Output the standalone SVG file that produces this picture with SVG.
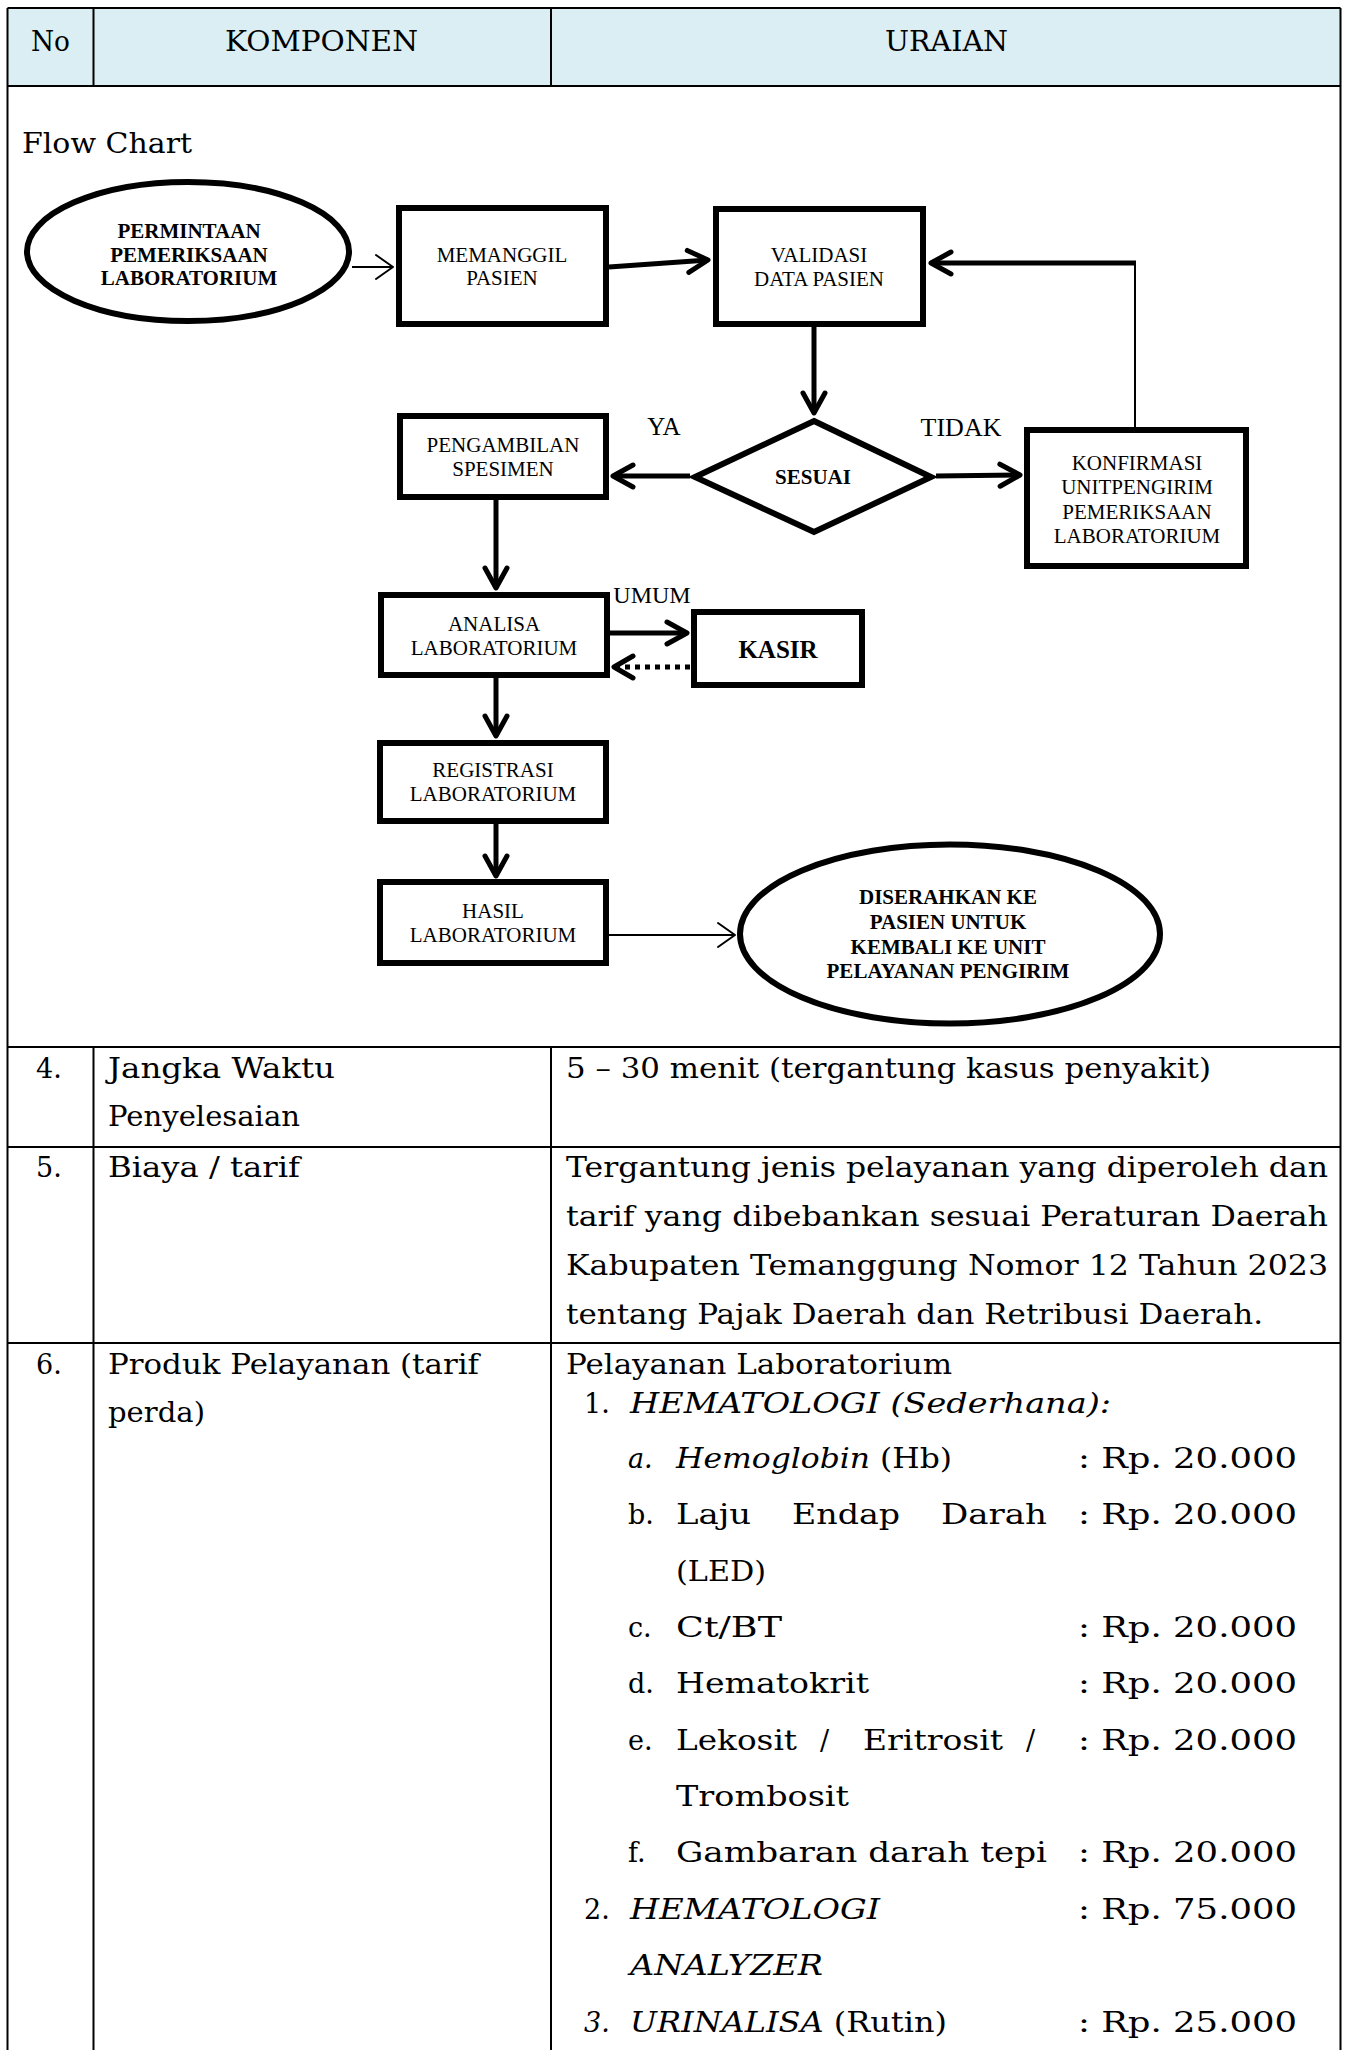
<svg xmlns="http://www.w3.org/2000/svg" width="1347" height="2050" viewBox="0 0 1347 2050">
<style>
  .cell{font-family:"DejaVu Serif","Liberation Serif",serif;font-size:27px;fill:#000}
  .it{font-style:italic}
  .grid{stroke:#000;stroke-width:2;fill:none}
  .fc{font-family:"Liberation Serif","Times New Roman",serif;font-size:21px;fill:#000;text-anchor:middle}
  .b{font-weight:bold}
  .box{fill:#fff;stroke:#000;stroke-width:6}
  .thick{stroke:#000;stroke-width:5;fill:none}
  .thin{stroke:#000;stroke-width:2;fill:none}
  .dots{stroke:#000;stroke-width:5;fill:none;stroke-dasharray:5 5}
</style>
<defs>
  <marker id="arrowThick" markerUnits="userSpaceOnUse" orient="auto" overflow="visible" markerWidth="1" markerHeight="1" refX="0" refY="0">
    <path d="M-20,-11 L0,0 L-20,11" fill="none" stroke="#000" stroke-width="5" stroke-linecap="round" stroke-linejoin="round"/>
  </marker>
  <marker id="arrowThin" markerUnits="userSpaceOnUse" orient="auto" overflow="visible" markerWidth="1" markerHeight="1" refX="0" refY="0">
    <path d="M-17,-12 L0,0 L-17,12" fill="none" stroke="#000" stroke-width="2" stroke-linecap="round" stroke-linejoin="round"/>
  </marker>
</defs>

<rect width="1347" height="2050" fill="#fff"/>

<!-- table frame -->
<g id="table">
  <rect x="7.5" y="8" width="1333" height="78" fill="#dbeef3"/>
  <path class="grid" d="M7.5,8 H1340.5 M7.5,8 V2050 M1340.5,8 V2050 M7.5,86 H1340.5 M7.5,1047 H1340.5 M7.5,1147 H1340.5 M7.5,1343 H1340.5 M93.5,8 V86 M551,8 V86 M93.5,1047 V2050 M551,1047 V2050"/>
  <text class="cell" x="31" y="51" textLength="39" lengthAdjust="spacingAndGlyphs">No</text>
  <text class="cell" x="225" y="51" textLength="193" lengthAdjust="spacingAndGlyphs">KOMPONEN</text>
  <text class="cell" x="885" y="51" textLength="123" lengthAdjust="spacingAndGlyphs">URAIAN</text>
  <text class="cell" x="22" y="153" textLength="170" lengthAdjust="spacingAndGlyphs">Flow Chart</text>
</g>

<!-- flowchart connectors -->
<g id="connectors">
  <line class="thin" x1="352" y1="267" x2="393" y2="267" marker-end="url(#arrowThin)"/>
  <line class="thick" x1="609" y1="267" x2="708" y2="260" marker-end="url(#arrowThick)"/>
  <line class="thick" x1="814" y1="327" x2="814" y2="413" marker-end="url(#arrowThick)"/>
  <line class="thick" x1="690" y1="476" x2="613" y2="476" marker-end="url(#arrowThick)"/>
  <line class="thick" x1="936" y1="476" x2="1020" y2="475" marker-end="url(#arrowThick)"/>
  <line class="thin" x1="1135" y1="428" x2="1135" y2="262"/>
  <line class="thick" x1="1136" y1="263" x2="931" y2="263" marker-end="url(#arrowThick)"/>
  <line class="thick" x1="496" y1="500" x2="496" y2="588" marker-end="url(#arrowThick)"/>
  <line class="thick" x1="610" y1="633" x2="687" y2="633" marker-end="url(#arrowThick)"/>
  <line class="dots" x1="690" y1="667" x2="614" y2="667"/>
  <path d="M633,656 L614,667 L633,678" fill="none" stroke="#000" stroke-width="5" stroke-linecap="round" stroke-linejoin="round"/>
  <line class="thick" x1="496" y1="678" x2="496" y2="736" marker-end="url(#arrowThick)"/>
  <line class="thick" x1="496" y1="824" x2="496" y2="876" marker-end="url(#arrowThick)"/>
  <line class="thin" x1="609" y1="935" x2="735" y2="935" stroke-width="2.5" marker-end="url(#arrowThin)"/>
</g>

<!-- flowchart nodes -->
<g id="permintaan">
  <ellipse class="box" cx="188" cy="251.5" rx="161" ry="69.5"/>
  <text class="fc b" x="189" y="238">PERMINTAAN</text>
  <text class="fc b" x="189" y="262">PEMERIKSAAN</text>
  <text class="fc b" x="189" y="285">LABORATORIUM</text>
</g>
<g id="memanggil">
  <rect class="box" x="399" y="208" width="207" height="116"/>
  <text class="fc" x="502" y="262">MEMANGGIL</text>
  <text class="fc" x="502" y="285">PASIEN</text>
</g>
<g id="validasi">
  <rect class="box" x="716" y="209" width="207" height="115"/>
  <text class="fc" x="819" y="262">VALIDASI</text>
  <text class="fc" x="819" y="286">DATA PASIEN</text>
</g>
<g id="sesuai">
  <polygon class="box" points="814,421 931,477 814,532 695,477" stroke-linejoin="miter"/>
  <text class="fc b" x="813" y="484">SESUAI</text>
</g>
<g id="label-ya"><text class="fc" x="664" y="435" style="font-size:25px">YA</text></g>
<g id="label-tidak"><text class="fc" x="961" y="436" style="font-size:26px">TIDAK</text></g>
<g id="pengambilan">
  <rect class="box" x="400" y="416" width="206" height="81"/>
  <text class="fc" x="503" y="452">PENGAMBILAN</text>
  <text class="fc" x="503" y="476">SPESIMEN</text>
</g>
<g id="konfirmasi">
  <rect class="box" x="1027" y="430" width="219" height="136"/>
  <text class="fc" x="1137" y="470">KONFIRMASI</text>
  <text class="fc" x="1137" y="494">UNITPENGIRIM</text>
  <text class="fc" x="1137" y="519">PEMERIKSAAN</text>
  <text class="fc" x="1137" y="543">LABORATORIUM</text>
</g>
<g id="analisa">
  <rect class="box" x="381" y="595" width="226" height="80"/>
  <text class="fc" x="494" y="631">ANALISA</text>
  <text class="fc" x="494" y="655">LABORATORIUM</text>
</g>
<g id="label-umum"><text class="fc" x="652" y="603" style="font-size:24px">UMUM</text></g>
<g id="kasir">
  <rect class="box" x="694" y="612" width="168" height="73"/>
  <text class="fc b" x="778" y="658" style="font-size:25px">KASIR</text>
</g>
<g id="registrasi">
  <rect class="box" x="380" y="743" width="226" height="78"/>
  <text class="fc" x="493" y="777">REGISTRASI</text>
  <text class="fc" x="493" y="801">LABORATORIUM</text>
</g>
<g id="hasil">
  <rect class="box" x="380" y="882" width="226" height="81"/>
  <text class="fc" x="493" y="918">HASIL</text>
  <text class="fc" x="493" y="942">LABORATORIUM</text>
</g>
<g id="diserahkan">
  <ellipse class="box" cx="950" cy="934" rx="210" ry="89.5"/>
  <text class="fc b" x="948" y="904">DISERAHKAN KE</text>
  <text class="fc b" x="948" y="929">PASIEN UNTUK</text>
  <text class="fc b" x="948" y="954">KEMBALI KE UNIT</text>
  <text class="fc b" x="948" y="978">PELAYANAN PENGIRIM</text>
</g>

<!-- row 4 -->
<g id="row4">
  <text class="cell" x="36" y="1078">4.</text>
  <text class="cell" x="108" y="1078" textLength="227" lengthAdjust="spacingAndGlyphs">Jangka Waktu</text>
  <text class="cell" x="108" y="1126" textLength="192" lengthAdjust="spacingAndGlyphs">Penyelesaian</text>
  <text class="cell" x="566" y="1078" textLength="645" lengthAdjust="spacingAndGlyphs">5 – 30 menit (tergantung kasus penyakit)</text>
</g>

<!-- row 5 -->
<g id="row5">
  <text class="cell" x="36" y="1177">5.</text>
  <text class="cell" x="108" y="1177" textLength="192" lengthAdjust="spacingAndGlyphs">Biaya / tarif</text>
  <text class="cell" x="566" y="1177" textLength="762" lengthAdjust="spacingAndGlyphs">Tergantung jenis pelayanan yang diperoleh dan</text>
  <text class="cell" x="566" y="1226" textLength="762" lengthAdjust="spacingAndGlyphs">tarif yang dibebankan sesuai Peraturan Daerah</text>
  <text class="cell" x="566" y="1275" textLength="762" lengthAdjust="spacingAndGlyphs">Kabupaten Temanggung Nomor 12 Tahun 2023</text>
  <text class="cell" x="566" y="1324" textLength="697" lengthAdjust="spacingAndGlyphs">tentang Pajak Daerah dan Retribusi Daerah.</text>
</g>

<!-- row 6 -->
<g id="row6">
  <text class="cell" x="36" y="1374">6.</text>
  <text class="cell" x="108" y="1374" textLength="371" lengthAdjust="spacingAndGlyphs">Produk Pelayanan (tarif</text>
  <text class="cell" x="108" y="1422" textLength="97" lengthAdjust="spacingAndGlyphs">perda)</text>

  <text class="cell" x="566" y="1374" textLength="386" lengthAdjust="spacingAndGlyphs">Pelayanan Laboratorium</text>
  <text class="cell" x="584" y="1413">1.</text>
  <text class="cell it" x="630" y="1413" textLength="481" lengthAdjust="spacingAndGlyphs">HEMATOLOGI (Sederhana):</text>

  <text class="cell it" x="628" y="1468">a.</text>
  <text class="cell" x="676" y="1468" textLength="276" lengthAdjust="spacingAndGlyphs"><tspan class="it">Hemoglobin</tspan> (Hb)</text>
  <text class="cell" x="1078" y="1468" textLength="219" lengthAdjust="spacingAndGlyphs">: Rp. 20.000</text>

  <text class="cell" x="628" y="1524">b.</text>
  <text class="cell" x="676" y="1524" textLength="75" lengthAdjust="spacingAndGlyphs">Laju</text>
  <text class="cell" x="792" y="1524" textLength="108" lengthAdjust="spacingAndGlyphs">Endap</text>
  <text class="cell" x="941" y="1524" textLength="106" lengthAdjust="spacingAndGlyphs">Darah</text>
  <text class="cell" x="1078" y="1524" textLength="219" lengthAdjust="spacingAndGlyphs">: Rp. 20.000</text>
  <text class="cell" x="676" y="1581" textLength="90" lengthAdjust="spacingAndGlyphs">(LED)</text>

  <text class="cell" x="628" y="1637">c.</text>
  <text class="cell" x="676" y="1637" textLength="106" lengthAdjust="spacingAndGlyphs">Ct/BT</text>
  <text class="cell" x="1078" y="1637" textLength="219" lengthAdjust="spacingAndGlyphs">: Rp. 20.000</text>

  <text class="cell" x="628" y="1693">d.</text>
  <text class="cell" x="676" y="1693" textLength="193" lengthAdjust="spacingAndGlyphs">Hematokrit</text>
  <text class="cell" x="1078" y="1693" textLength="219" lengthAdjust="spacingAndGlyphs">: Rp. 20.000</text>

  <text class="cell" x="628" y="1750">e.</text>
  <text class="cell" x="676" y="1750" textLength="121" lengthAdjust="spacingAndGlyphs">Lekosit</text>
  <text class="cell" x="820" y="1750">/</text>
  <text class="cell" x="863" y="1750" textLength="140" lengthAdjust="spacingAndGlyphs">Eritrosit</text>
  <text class="cell" x="1026" y="1750">/</text>
  <text class="cell" x="1078" y="1750" textLength="219" lengthAdjust="spacingAndGlyphs">: Rp. 20.000</text>
  <text class="cell" x="676" y="1806" textLength="173" lengthAdjust="spacingAndGlyphs">Trombosit</text>

  <text class="cell" x="628" y="1862">f.</text>
  <text class="cell" x="676" y="1862" textLength="371" lengthAdjust="spacingAndGlyphs">Gambaran darah tepi</text>
  <text class="cell" x="1078" y="1862" textLength="219" lengthAdjust="spacingAndGlyphs">: Rp. 20.000</text>

  <text class="cell" x="584" y="1919">2.</text>
  <text class="cell it" x="630" y="1919" textLength="250" lengthAdjust="spacingAndGlyphs">HEMATOLOGI</text>
  <text class="cell" x="1078" y="1919" textLength="219" lengthAdjust="spacingAndGlyphs">: Rp. 75.000</text>
  <text class="cell it" x="630" y="1975" textLength="193" lengthAdjust="spacingAndGlyphs">ANALYZER</text>

  <text class="cell it" x="584" y="2032">3.</text>
  <text class="cell" x="630" y="2032" textLength="317" lengthAdjust="spacingAndGlyphs"><tspan class="it">URINALISA</tspan> (Rutin)</text>
  <text class="cell" x="1078" y="2032" textLength="219" lengthAdjust="spacingAndGlyphs">: Rp. 25.000</text>
</g>
</svg>
